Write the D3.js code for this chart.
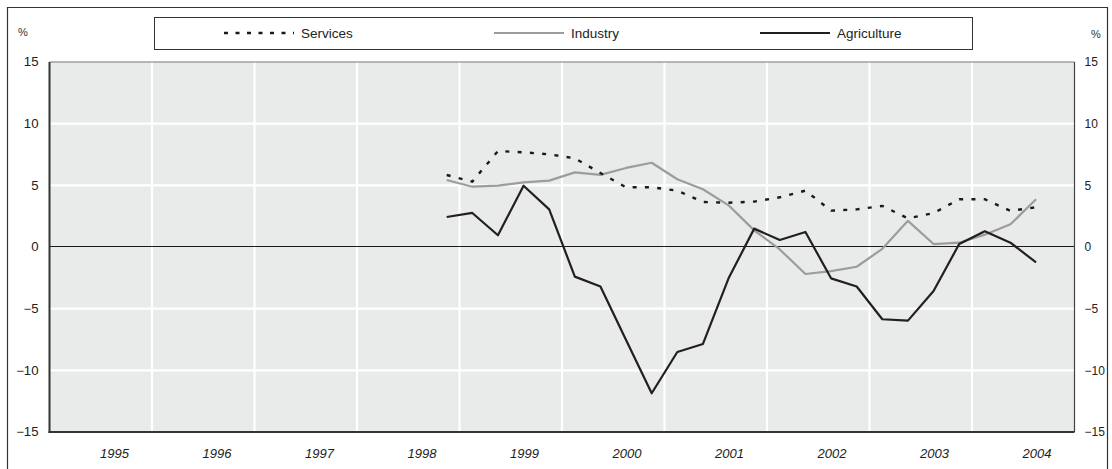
<!DOCTYPE html>
<html>
<head>
<meta charset="utf-8">
<script src="https://cdn.jsdelivr.net/npm/d3@7"></script>
<style>
  html, body { margin: 0; padding: 0; background: #fff; }
  svg { display: block; font-family: "Liberation Sans", Arial, sans-serif; }
</style>
</head>
<body>
<svg id="chart" width="1112" height="469"></svg>
<script>
// ---- data ----
const quarters = ["1998Q4",
  "1999Q1","1999Q2","1999Q3","1999Q4",
  "2000Q1","2000Q2","2000Q3","2000Q4",
  "2001Q1","2001Q2","2001Q3","2001Q4",
  "2002Q1","2002Q2","2002Q3","2002Q4",
  "2003Q1","2003Q2","2003Q3","2003Q4",
  "2004Q1","2004Q2","2004Q3"];
const services = [5.84, 5.3, 7.78, 7.68, 7.51, 7.19, 6.0, 4.84, 4.84, 4.57, 3.65, 3.59,
  3.68, 4.03, 4.57, 2.95, 3.05, 3.33, 2.32, 2.75, 3.87, 3.87, 2.93, 3.22];
const industry = [5.43, 4.89, 4.97, 5.24, 5.38, 6.05, 5.85, 6.41, 6.83, 5.49, 4.68, 3.38,
  1.35, -0.2, -2.19, -1.95, -1.6, -0.15, 2.12, 0.24, 0.35, 1.0, 1.84, 3.87];
const agriculture = [2.43, 2.76, 0.95, 4.97, 3.05, -2.4, -3.2, -7.54, -11.86, -8.51, -7.86, -2.54,
  1.49, 0.57, 1.22, -2.54, -3.2, -5.86, -5.97, -3.57, 0.24, 1.27, 0.35, -1.25];
const years = [1995, 1996, 1997, 1998, 1999, 2000, 2001, 2002, 2003, 2004];
const yTicks = [15, 10, 5, 0, -5, -10, -15];
const seriesNames = ["Services", "Industry", "Agriculture"];

// ---- helpers ----
function qTime(q) { // quarter centre as fractional year
  const yr = +q.slice(0, 4), n = +q.slice(5);
  return yr + (n - 0.5) / 4;
}

const svg = d3.select("#chart");
const L = 49.5, R = 1074.5, T = 62, B = 432;
const x = d3.scaleLinear().domain([1995, 2005]).range([L, R]);
const y = d3.scaleLinear().domain([-15, 15]).range([B, T]);
const FONT = "'Liberation Sans', Arial, sans-serif";

// outer frame
svg.append("path")
  .attr("d", `M7.5,475 V7.5 H1107.5 V475`)
  .attr("fill", "none").attr("stroke", "#333").attr("stroke-width", 1.2);

// plot background
svg.append("rect").attr("x", L).attr("y", T).attr("width", R - L).attr("height", B - T)
  .attr("fill", "#e9eaea");

// vertical gridlines at year boundaries
svg.append("g").selectAll("line").data(d3.range(1996, 2005)).join("line")
  .attr("x1", d => x(d)).attr("x2", d => x(d))
  .attr("y1", T).attr("y2", B)
  .attr("stroke", "#fff").attr("stroke-width", 2.2);

// horizontal gridlines
svg.append("g").selectAll("line").data([10, 5, -5, -10]).join("line")
  .attr("x1", L).attr("x2", R)
  .attr("y1", d => y(d)).attr("y2", d => y(d))
  .attr("stroke", "#fff").attr("stroke-width", 2.2);

// zero line
svg.append("line").attr("x1", L).attr("x2", R).attr("y1", y(0) - 0.5).attr("y2", y(0) - 0.5)
  .attr("stroke", "#1a1a1a").attr("stroke-width", 1).attr("shape-rendering", "crispEdges");

// plot border
svg.append("line").attr("x1", L).attr("x2", R).attr("y1", T).attr("y2", T)
  .attr("stroke", "#777").attr("stroke-width", 1);
svg.append("line").attr("x1", R).attr("x2", R).attr("y1", T).attr("y2", B)
  .attr("stroke", "#444").attr("stroke-width", 1.2);
svg.append("line").attr("x1", L).attr("x2", L).attr("y1", T).attr("y2", B + 1)
  .attr("stroke", "#333").attr("stroke-width", 2);
svg.append("line").attr("x1", L - 1).attr("x2", R).attr("y1", B).attr("y2", B)
  .attr("stroke", "#333").attr("stroke-width", 2);

// y axis labels (left and right) via d3 axes, slightly widened glyphs
const SX = 1.1;
const axL = d3.axisLeft(y).tickValues(yTicks).tickSize(0).tickPadding(11);
const gL = svg.append("g").attr("transform", `translate(${L},0)`).call(axL);
gL.select(".domain").remove();
gL.selectAll("text").attr("font-size", 12).attr("fill", "#222").attr("font-family", FONT)
  .attr("x", -11 / SX).attr("transform", `scale(${SX},1)`);

const SXR = 1.0;
const axR = d3.axisRight(y).tickValues(yTicks).tickSize(0).tickPadding(10);
const gR = svg.append("g").attr("transform", `translate(${R},0)`).call(axR);
gR.select(".domain").remove();
gR.selectAll("text").attr("font-size", 12).attr("fill", "#222").attr("font-family", FONT)
  .attr("x", 10 / SXR).attr("transform", `scale(${SXR},1)`);

// % labels
svg.append("text").attr("x", 18).attr("y", 36).text("%")
  .attr("font-size", 11).attr("fill", "#333");
svg.append("text").attr("x", 1091).attr("y", 38).text("%")
  .attr("font-size", 11).attr("fill", "#333");

// x axis year labels
const axB = d3.axisBottom(x).tickValues(years.map(d => d + 0.63))
  .tickFormat(d => String(Math.floor(d))).tickSize(0).tickPadding(16.5);
const gB = svg.append("g").attr("transform", `translate(0,${B})`).call(axB);
gB.select(".domain").remove();
gB.selectAll("text").attr("font-size", 13).attr("font-style", "italic").attr("fill", "#222")
  .attr("font-family", FONT);

// lines
const line = d3.line().x((d, i) => x(qTime(quarters[i]))).y(d => y(d));
svg.append("path").datum(industry).attr("d", line)
  .attr("fill", "none").attr("stroke", "#9c9c9c").attr("stroke-width", 2.2).attr("stroke-linejoin", "round");
svg.append("path").datum(services).attr("d", line)
  .attr("fill", "none").attr("stroke", "#1a1a1a").attr("stroke-width", 2.4)
  .attr("stroke-dasharray", "4,8.3");
svg.append("path").datum(agriculture).attr("d", line)
  .attr("fill", "none").attr("stroke", "#231f20").attr("stroke-width", 2.2).attr("stroke-linejoin", "round");

// legend
const lg = svg.append("g");
lg.append("rect").attr("x", 154.5).attr("y", 17.5).attr("width", 818).attr("height", 32)
  .attr("fill", "#fff").attr("stroke", "#333").attr("stroke-width", 1);
const legendItems = [
  { name: seriesNames[0], x1: 224, x2: 294, color: "#1a1a1a", dash: "4,7.5", w: 2.4 },
  { name: seriesNames[1], x1: 494, x2: 564, color: "#9c9c9c", dash: null, w: 2.2 },
  { name: seriesNames[2], x1: 760, x2: 830, color: "#231f20", dash: null, w: 2.2 }
];
legendItems.forEach(it => {
  const ln = lg.append("line").attr("x1", it.x1).attr("x2", it.x2).attr("y1", 33).attr("y2", 33)
    .attr("stroke", it.color).attr("stroke-width", it.w);
  if (it.dash) ln.attr("stroke-dasharray", it.dash);
  lg.append("text").attr("x", it.x2 + 7).attr("y", 38).text(it.name)
    .attr("font-size", 13.5).attr("fill", "#222").attr("font-family", FONT);
});
</script>
</body>
</html>
